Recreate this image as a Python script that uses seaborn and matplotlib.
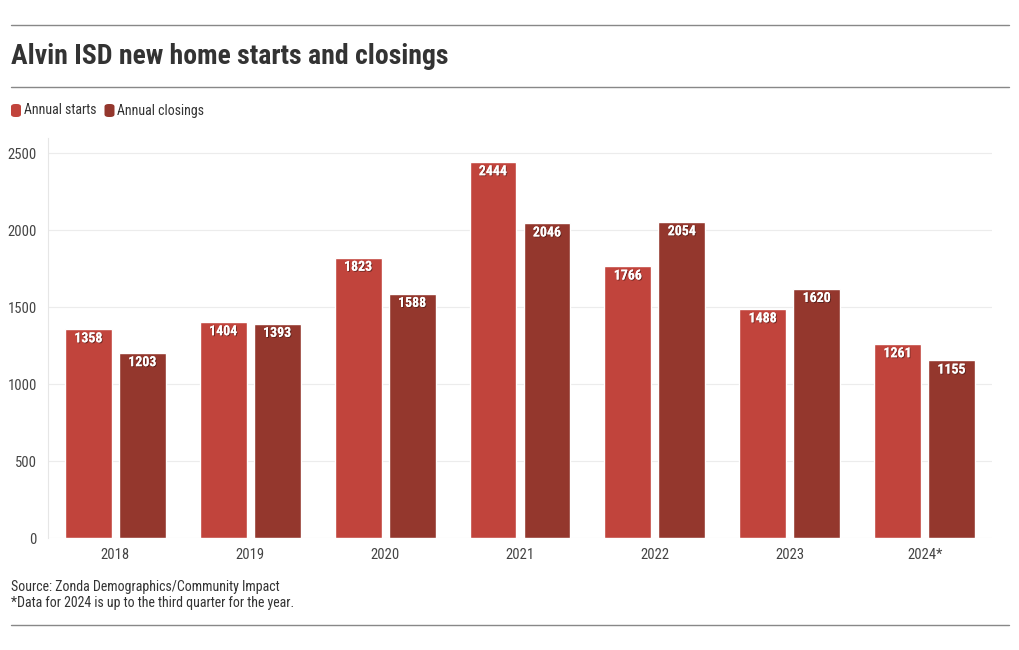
import matplotlib
matplotlib.use("Agg")
import matplotlib.pyplot as plt
import matplotlib.patheffects as pe
from matplotlib import font_manager
from matplotlib.patches import FancyBboxPatch
import seaborn as sns
import pandas as pd

years = ["2018", "2019", "2020", "2021", "2022", "2023", "2024*"]
starts = [1358, 1404, 1823, 2444, 1766, 1488, 1261]
closings = [1203, 1393, 1588, 2046, 2054, 1620, 1155]
series_names = ["Annual starts", "Annual closings"]
colors = ["#c1443c", "#94372d"]
yticks = [0, 500, 1000, 1500, 2000, 2500]

df = pd.DataFrame({
    "year": years * 2,
    "value": starts + closings,
    "series": [series_names[0]] * len(years) + [series_names[1]] * len(years),
})

sns.set_theme(style="white")
names = {f.name for f in font_manager.fontManager.ttflist}
fam = "Roboto Condensed" if "Roboto Condensed" in names else "Roboto"
plt.rcParams["font.family"] = [fam, "DejaVu Sans"]

fig = plt.figure(figsize=(10.2, 6.5), dpi=100)
ax = fig.add_axes([48 / 1020, 1 - 538 / 650, (992 - 48) / 1020, (538 - 138) / 650])

sns.barplot(data=df, x="year", y="value", hue="series", palette=colors,
            width=0.8, gap=0.13, ax=ax, legend=False, saturation=1)

ax.set_ylim(0, 2600)
ax.set_xlim(-0.5, 6.5)
ax.set_yticks(yticks)
ax.set_yticklabels([str(t) for t in yticks])
ax.set_xlabel("")
ax.set_ylabel("")
ax.grid(axis="y", color="#ececec", linewidth=0.8)
ax.set_axisbelow(True)
for s in ["top", "right", "bottom"]:
    ax.spines[s].set_visible(False)
ax.spines["left"].set_color("#e6e6e6")
ax.spines["left"].set_linewidth(0.8)
ax.tick_params(axis="both", length=0, labelsize=10.5, labelcolor="#444444")
ax.tick_params(axis="y", pad=8)
ax.tick_params(axis="x", pad=7)

for container in ax.containers:
    for bar in container:
        h = bar.get_height()
        ax.text(bar.get_x() + bar.get_width() / 2, h - 60, f"{int(round(h))}",
                ha="center", va="center", color="white", fontsize=10,
                fontweight="bold",
                path_effects=[pe.withSimplePatchShadow(offset=(0.7, -0.7), shadow_rgbFace="#3a1512", alpha=0.6),
                              pe.Normal()])

# Decorations
for y in [25, 87, 625]:
    fig.add_artist(plt.Line2D([11 / 1020, 1009 / 1020], [1 - y / 650, 1 - y / 650],
                              color="#888888", linewidth=1))

fig.text(11 / 1020, 1 - 57 / 650, "Alvin ISD new home starts and closings",
         fontsize=20, fontweight="bold", color="#333333", va="center", ha="left")

# legend
lx = 11
for name, c in zip(series_names, colors):
    fig.add_artist(FancyBboxPatch((lx / 1020, 1 - 117 / 650), 10 / 1020, 13 / 650,
                                  boxstyle="round,pad=0,rounding_size=0.004",
                                  transform=fig.transFigure, facecolor=c, edgecolor="none"))
    t = fig.text((lx + 13) / 1020, 1 - 110.5 / 650, name, fontsize=10,
                 color="#333333", va="center", ha="left")
    fig.canvas.draw()
    bb = t.get_window_extent()
    lx = bb.x1 + 8

fig.text(11 / 1020, 1 - 587 / 650, "Source: Zonda Demographics/Community Impact",
         fontsize=10, color="#333333", va="center", ha="left")
fig.text(11 / 1020, 1 - 603 / 650, "*Data for 2024 is up to the third quarter for the year.",
         fontsize=10, color="#333333", va="center", ha="left")

fig.savefig("out.png", dpi=100)
